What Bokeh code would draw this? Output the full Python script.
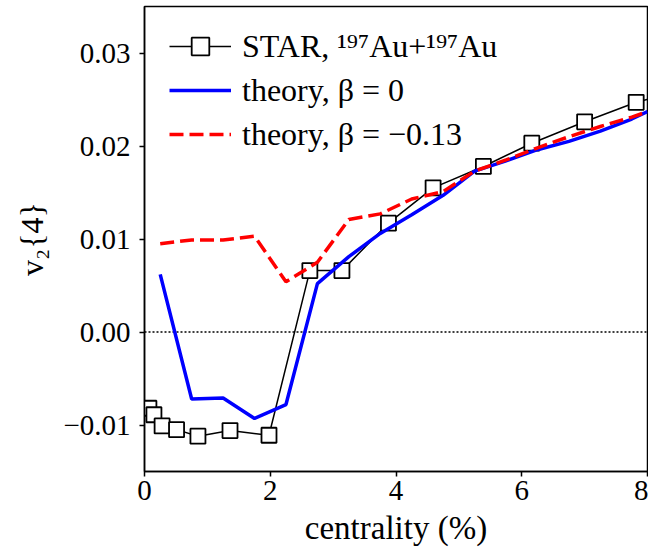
from bokeh.plotting import figure
from bokeh.models import Range1d, FixedTicker, CustomJSTickFormatter, Span, Legend, LegendItem
from bokeh.embed import file_html
from bokeh.resources import INLINE

# STAR 197Au+197Au data
star_x = [0.07, 0.15, 0.28, 0.51, 0.85, 1.36, 1.98, 2.63, 3.14, 3.88, 4.59, 5.39, 6.16, 7.00, 7.82, 8.70]
star_y = [-0.0082, -0.0089, -0.0101, -0.0105, -0.0112, -0.0106, -0.0111, 0.0066, 0.0066,
          0.0117, 0.0155, 0.0178, 0.0203, 0.0226, 0.0247, 0.0262]

# theory, beta = 0
b0_x = [0.25, 0.75, 1.25, 1.75, 2.25, 2.75, 3.25, 3.75, 4.25, 4.75, 5.25, 5.75, 6.25, 6.75, 7.25, 7.75, 8.0]
b0_y = [0.0062, -0.0072, -0.0071, -0.0093, -0.0078, 0.0052, 0.0081, 0.0106, 0.0126, 0.0147,
        0.0173, 0.0184, 0.0196, 0.0205, 0.0216, 0.0229, 0.0237]

# theory, beta = -0.13
bm_x = [0.25, 0.75, 1.25, 1.75, 2.25, 2.75, 3.25, 3.75, 4.25, 4.75, 5.25, 5.75, 6.25, 6.75, 7.25, 7.75, 8.0]
bm_y = [0.0095, 0.0099, 0.0099, 0.0103, 0.0054, 0.0075, 0.0121, 0.0127, 0.0143, 0.0151,
        0.0173, 0.0185, 0.0198, 0.0210, 0.0221, 0.0231, 0.0237]

x_ticks = [0, 2, 4, 6, 8]
y_ticks = [-0.01, 0.0, 0.01, 0.02, 0.03]

FONT = "Liberation Serif"

p = figure(width=648, height=553, output_backend="svg", toolbar_location=None,
           x_range=Range1d(0, 8), y_range=Range1d(-0.015, 0.035),
           min_border_left=144, min_border_right=1, min_border_top=6, min_border_bottom=82,
           background_fill_color="white", border_fill_color="white")
p.xgrid.visible = False
p.ygrid.visible = False
p.outline_line_color = "black"
p.outline_line_width = 1.5
p.outline_line_alpha = 1.0

p.xaxis.ticker = FixedTicker(ticks=x_ticks)
p.yaxis.ticker = FixedTicker(ticks=y_ticks)
p.yaxis.formatter = CustomJSTickFormatter(
    code="return (tick < -1e-9 ? '\\u2212' : '') + Math.abs(tick).toFixed(2);")
p.xaxis.axis_label = "centrality (%)"
p.yaxis.axis_label = "v\u2082{4}"

for ax in (p.xaxis[0], p.yaxis[0]):
    ax.axis_line_width = 1.5
    ax.axis_line_color = "black"
    ax.major_tick_line_width = 1.5
    ax.major_tick_line_color = "black"
    ax.major_tick_out = 5
    ax.major_tick_in = 0
    ax.minor_tick_line_color = None
    ax.major_label_text_font = FONT
    ax.major_label_text_font_size = "29px"
    ax.major_label_text_color = "black"
    ax.axis_label_text_font = FONT
    ax.axis_label_text_font_size = "33px"
    ax.axis_label_text_font_style = "normal"
    ax.axis_label_text_color = "black"

p.yaxis.axis_label_text_font_size = "32px"
p.xaxis.major_label_standoff = 4
p.xaxis.axis_label_standoff = 7
p.yaxis.major_label_standoff = 9
p.yaxis.axis_label_standoff = 10

zero = Span(location=0, dimension="width", line_color="black", line_width=1.5,
            line_dash="2 2", level="underlay")
p.add_layout(zero)

star_line = p.line(star_x, star_y, line_color="black", line_width=1.5)
star_pts = p.scatter(star_x, star_y, marker="square", size=15, fill_color="white",
                     line_color="black", line_width=1.8)
blue = p.line(b0_x, b0_y, line_color="#0000ff", line_width=3.5)
red = p.line(bm_x, bm_y, line_color="#ff0000", line_width=3.5, line_dash="14 6")

legend = Legend(items=[
    LegendItem(label="STAR, \u00b9\u2079\u2077Au+\u00b9\u2079\u2077Au", renderers=[star_line, star_pts]),
    LegendItem(label="theory, \u03b2 = 0", renderers=[blue]),
    LegendItem(label="theory, \u03b2 = \u22120.13", renderers=[red]),
], location=(25, 315))
legend.padding = 8
legend.margin = 0
legend.spacing = 0
legend.glyph_width = 62
legend.glyph_height = 44
legend.label_height = 44
legend.label_standoff = 11
legend.label_text_font = FONT
legend.label_text_font_size = "32px"
legend.label_text_color = "black"
legend.label_text_baseline = "middle"
legend.border_line_color = None
legend.background_fill_alpha = 0
p.add_layout(legend)

open("out.html", "w").write(file_html(p, INLINE))
